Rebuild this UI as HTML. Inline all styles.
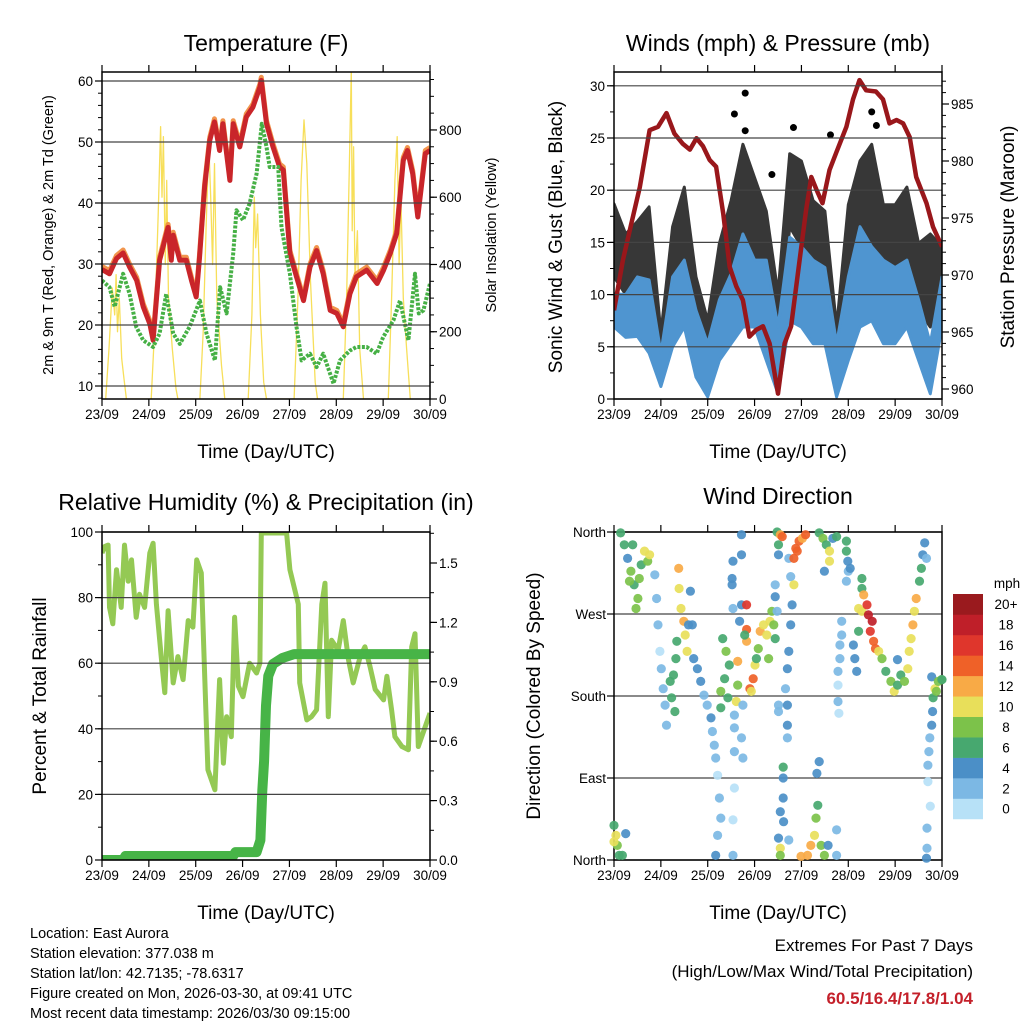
<!DOCTYPE html>
<html><head><meta charset="utf-8">
<style>
html,body{margin:0;padding:0;background:#fff;}
svg{display:block;font-family:"Liberation Sans",sans-serif;}
</style></head>
<body>
<svg id="root" width="1024" height="1024" viewBox="0 0 1024 1024" xmlns="http://www.w3.org/2000/svg">
<defs>
<clipPath id="c1"><rect x="102" y="72" width="328" height="327"/></clipPath>
<clipPath id="c2"><rect x="614" y="72" width="328" height="327"/></clipPath>
<clipPath id="c3"><rect x="102" y="532" width="328" height="328"/></clipPath>
<clipPath id="c4"><rect x="608" y="526" width="340" height="340"/></clipPath>
</defs>
<text x="266" y="51" font-size="23" text-anchor="middle">Temperature (F)</text>
<text x="778" y="51" font-size="23" text-anchor="middle">Winds (mph) &amp; Pressure (mb)</text>
<text x="266" y="510" font-size="23" text-anchor="middle">Relative Humidity (%) &amp; Precipitation (in)</text>
<text x="778" y="504" font-size="23" text-anchor="middle">Wind Direction</text>
<text x="266" y="458" font-size="19" text-anchor="middle">Time (Day/UTC)</text>
<text x="778" y="458" font-size="19" text-anchor="middle">Time (Day/UTC)</text>
<text x="266" y="919" font-size="19" text-anchor="middle">Time (Day/UTC)</text>
<text x="778" y="919" font-size="19" text-anchor="middle">Time (Day/UTC)</text>
<text transform="translate(53,235) rotate(-90)" font-size="14.5" text-anchor="middle">2m &amp; 9m T (Red, Orange) &amp; 2m Td (Green)</text>
<text transform="translate(496,235) rotate(-90)" font-size="14.5" text-anchor="middle">Solar Insolation (Yellow)</text>
<text transform="translate(562,237) rotate(-90)" font-size="19" text-anchor="middle">Sonic Wind &amp; Gust (Blue, Black)</text>
<text transform="translate(1014,237) rotate(-90)" font-size="19" text-anchor="middle">Station Pressure (Maroon)</text>
<text transform="translate(46,696) rotate(-90)" font-size="19" text-anchor="middle">Percent &amp; Total Rainfall</text>
<text transform="translate(540,696) rotate(-90)" font-size="19" text-anchor="middle">Direction (Colored By Speed)</text>
<g font-size="14.5">
<text x="30" y="938">Location: East Aurora</text>
<text x="30" y="958">Station elevation: 377.038 m</text>
<text x="30" y="978">Station lat/lon: 42.7135; -78.6317</text>
<text x="30" y="998">Figure created on Mon, 2026-03-30, at 09:41 UTC</text>
<text x="30" y="1018">Most recent data timestamp: 2026/03/30 09:15:00</text>
</g>
<g font-size="17" text-anchor="end">
<text x="973" y="951">Extremes For Past 7 Days</text>
<text x="973" y="977">(High/Low/Max Wind/Total Precipitation)</text>
<text x="973" y="1004" fill="#c4202a" font-weight="bold">60.5/16.4/17.8/1.04</text>
</g>
</svg>
<script>
// ---------- DATA ----------
const dayLabels = ["23/09","24/09","25/09","26/09","27/09","28/09","29/09","30/09"];
const tTimes = [0,0.16,0.31,0.45,0.59,0.74,0.88,1.02,1.09,1.23,1.41,1.48,1.52,1.66,1.8,1.91,2.01,2.08,2.19,2.3,2.4,2.51,2.58,2.73,2.8,2.94,3.08,3.22,3.37,3.4,3.51,3.65,3.79,3.87,4.01,4.15,4.3,4.44,4.58,4.72,4.87,5.01,5.15,5.29,5.43,5.65,5.87,6.01,6.15,6.29,6.43,6.52,6.63,6.74,6.9,7.0];
const tempRed = [29.1,28.4,30.9,31.8,29.5,27.3,23,20.2,17.5,30.6,36,30.6,34.7,30.6,30.6,27.3,24.6,31,42.6,50.3,53.3,48.6,53,43.7,53,49.2,54.1,55.7,59,60.1,53,49.2,45.9,45.4,31.7,27.9,24,29.5,32.2,28.4,22.4,21.9,19.7,25.1,27.9,29,26.8,29,31.7,35,47,48.6,44.8,37.7,48.1,48.6];
const tdTimes = [0,0.16,0.27,0.45,0.59,0.73,0.88,1.09,1.23,1.37,1.52,1.66,1.87,2.09,2.23,2.41,2.52,2.66,2.8,2.87,3.01,3.15,3.3,3.41,3.51,3.58,3.76,3.83,4.01,4.15,4.26,4.44,4.58,4.72,4.94,5.08,5.29,5.43,5.65,5.86,6.0,6.22,6.36,6.54,6.68,6.76,6.86,7.0];
const dewGreen = [27.3,26.2,23,28.4,25.1,19.7,17.5,16.4,18.6,25.1,18.6,16.9,19.7,24,18.6,14.2,26.2,21.9,31.7,38.8,37.2,39.9,44.8,53,49.2,45.9,45.9,36,28.4,19.7,14.2,15.3,13.1,15.3,10.4,14.2,15.8,16.4,16.4,15.3,18,20.8,24,17.5,28.4,21.9,22.4,26.8];
const solarTimes = [0.08,0.15,0.22,0.27,0.3,0.33,0.37,0.42,0.47,0.52,1.05,1.12,1.2,1.25,1.28,1.31,1.35,1.38,1.42,1.5,1.58,1.62,2.09,2.16,2.22,2.28,2.32,2.36,2.4,2.45,2.55,2.62,3.12,3.2,3.25,3.28,3.32,3.38,3.45,3.51,4.1,4.18,4.25,4.31,4.37,4.45,4.55,4.6,5.15,5.22,5.28,5.32,5.34,5.37,5.4,5.45,5.5,5.58,6.11,6.18,6.25,6.3,6.34,6.38,6.43,6.5,6.58];
const solarValues = [0,150,330,250,370,200,300,120,60,0,0,200,550,810,600,780,400,650,300,150,30,0,0,200,500,760,600,400,700,300,100,0,0,250,600,450,550,250,50,0,0,300,650,830,700,350,50,0,0,300,700,980,500,750,350,500,150,0,0,300,650,780,400,600,300,150,0];
const windTimes = [0,0.25,0.5,0.75,1,1.25,1.5,1.75,2,2.25,2.5,2.75,3,3.25,3.5,3.75,4,4.25,4.5,4.75,5,5.25,5.5,5.75,6,6.25,6.5,6.75,7];
const sonicHi = [10.1,10,11.7,11.4,4.4,11.7,13.3,8.5,5.3,9.5,12,15.8,13.3,13.3,6.9,15.5,14.6,13.3,12.6,5.3,11.7,16.5,14.6,13.3,12.6,13.3,9.5,5.3,11.7];
const sonicLo = [6.9,5.9,6,4.4,1.2,5,6.9,2.1,0.2,3.7,5.3,6.9,6.9,3.7,0.5,7.5,6.9,5.3,5.3,0.2,3.7,6.9,7.5,5.3,5.3,6.9,3.7,0.5,6.9];
const gustHi = [18.7,15.8,17,18.4,6.3,16.5,20.3,11.7,7.5,14.9,19,24.4,21.2,18,10.1,23.5,22.8,19,18,6.9,18.6,22.8,24.4,18.6,18.6,20.3,14.9,15.8,14.6];
const gustLo = [11.7,10,10,12,3.1,10,13.3,5.3,3.7,8.5,11.7,14.9,13.3,11.7,3.7,16.5,14.6,11.7,10.1,2.1,10,13.3,14.9,10,10,11.7,8.5,6.9,10];
const gustOutT = [2.8,2.57,2.8,3.37,3.83,4.62,5.5,5.6];
const gustOutV = [29.3,27.3,25.7,21.5,26,25.3,27.5,26.2];
const presTimes = [0,0.19,0.37,0.55,0.76,0.94,1.12,1.29,1.47,1.62,1.76,1.9,2.04,2.18,2.33,2.47,2.61,2.75,2.89,3.04,3.18,3.32,3.5,3.64,3.78,3.96,4.1,4.21,4.32,4.45,4.6,4.74,4.96,5.1,5.24,5.38,5.59,5.74,5.88,6.03,6.17,6.31,6.45,6.67,6.81,7.0];
const presValues = [966.9,971.3,974.5,977.7,982.7,983,984.2,982.4,981.5,981,982,981.3,980.1,979.5,975.4,970.7,969,967.8,964.6,965.2,965.5,964,959.6,964,965.5,971.3,975.7,978.6,977.5,976.3,979.2,980.7,983,985.4,987.1,986.2,986.1,985.4,983.3,983.6,983.3,982.1,978.6,976.3,974.2,972.5];
const rhTimes = [0,0.06,0.13,0.16,0.23,0.31,0.41,0.48,0.56,0.63,0.73,0.8,0.91,1.02,1.09,1.16,1.27,1.34,1.41,1.52,1.62,1.73,1.84,1.94,2.02,2.12,2.19,2.26,2.41,2.51,2.59,2.66,2.76,2.83,2.91,3.01,3.15,3.3,3.37,3.4,3.94,4.01,4.19,4.22,4.37,4.47,4.58,4.69,4.76,4.83,4.9,5.04,5.15,5.26,5.36,5.51,5.61,5.72,5.83,6.01,6.08,6.18,6.25,6.4,6.54,6.61,6.68,6.75,6.9,7.0];
const rhValues = [93.6,95.6,96,77,72,88.5,77,96,85,91.5,74,81,77,93.6,96.6,78,61,51,76,54,62,55,73,71,91.5,87.5,57,27.5,21.4,55,29.5,43.7,37.6,74,53,49.8,60,57,60,99.7,99.7,88.5,78,54,42.7,43.7,45.8,78,84.4,43.7,67,64,73,61,54,62,65,59,52,48.8,56,45.8,37.6,34.6,33.6,65,69,34.6,40.7,44.8];
const rainTimes = [0,0.45,0.5,2.8,2.85,3.3,3.38,3.42,3.46,3.5,3.55,3.65,3.85,4.1,7.0];
const rainValues = [0,0,0.02,0.02,0.04,0.04,0.1,0.35,0.5,0.78,0.93,0.99,1.02,1.04,1.04];
const dirTimes = [0.14,0.22,0.29,0.36,0.43,0.51,0.47,0.58,0.65,0.72,0.76,0.33,0.54,0.40,
0.87,0.91,0.94,0.98,1.01,1.05,1.09,1.12,1.20,1.23,1.27,1.30,
1.38,1.39,1.43,1.49,1.52,1.56,1.34,1.32,1.59,1.67,1.63,
1.70,1.78,1.85,1.92,1.99,2.07,2.10,2.14,2.17,2.21,2.25,2.28,2.21,2.17,
2.32,2.39,2.46,2.36,2.28,2.43,2.28,2.64,2.64,2.61,
2.72,2.72,2.54,2.52,2.52,2.72,2.54,2.68,2.83,2.83,2.83,2.79,2.75,2.57,2.57,2.72,2.57,2.75,2.57,2.54,2.54,
2.90,2.97,3.01,3.08,3.12,3.19,3.26,3.33,3.37,3.41,3.44,3.30,3.04,2.93,
3.48,3.51,3.51,3.55,3.44,3.44,3.48,3.73,3.77,3.84,3.80,3.77,3.73,3.70,3.66,3.51,3.70,3.70,3.70,3.51,3.61,3.61,3.61,3.55,3.62,3.51,3.55,3.55,3.73,
3.84,3.88,3.95,4.02,4.09,3.91,3.59,
3.99,4.13,4.20,4.28,4.31,4.35,4.42,4.49,4.57,4.75,4.75,4.38,4.33,
4.38,4.46,4.53,4.60,4.60,4.67,4.75,4.49,
4.96,4.96,4.99,5.00,4.96,5.04,4.86,4.86,4.82,4.82,4.78,4.78,4.78,4.80,5.11,5.14,5.18,5.29,5.29,
5.22,5.29,5.33,5.40,5.43,5.51,5.47,5.54,5.58,5.65,5.22,5.72,
5.80,5.91,5.98,6.05,6.12,6.20,6.27,6.30,6.34,6.38,6.41,6.45,6.52,6.56,6.59,6.63,6.67,6.05,
6.78,6.81,6.80,6.78,6.74,6.72,6.70,6.70,6.75,6.68,6.68,6.67,
6.85,6.92,6.99,7.0,6.88,
0.0,0.04,0.07,0.11,0.18,0.25,0.0];
const dirValues = [359,346,331,317,302,287,276,324,339,328,335,306,309,346,
313,287,258,229,210,188,170,148,196,178,203,163,
320,298,276,262,247,229,240,221,258,258,295,
221,210,196,181,170,156,141,126,112,93,68,46,27,5,
243,229,214,199,185,178,167,218,192,174,
357,335,328,309,302,280,276,262,280,253,240,247,170,159,145,134,119,112,79,44,5,
188,199,214,232,251,258,247,262,273,258,243,221,221,185,
360,346,335,357,302,289,273,331,311,302,280,258,229,210,188,170,170,148,134,163,102,90,68,53,42,24,13,5,22,
331,342,350,353,357,339,355,
4,5,16,27,46,60,16,5,16,33,5,108,95,
359,353,346,339,328,353,355,317,
350,339,328,317,306,320,262,247,236,221,207,192,174,161,236,221,207,309,298,
276,273,291,280,269,262,251,240,232,229,251,221,
207,196,185,192,203,196,210,229,243,258,273,287,306,320,335,348,331,220,
201,178,163,148,134,119,104,86,59,35,13,2,
188,196,198,198,185,
38,27,16,5,5,29,20];
const dirSpeeds = [7,6,5,8,7,8,8,6,10,9,10,8,9,6,
3,2,2,1,2,3,2,2,7,7,6,7,
12,10,10,12,10,11,7,6,5,4,5,
5,4,4,3,3,4,3,2,2,1,2,2,2,4,
7,8,6,7,8,6,6,12,9,10,
4,4,4,4,5,4,2,4,16,14,12,6,3,3,2,2,2,2,1,1,2,
14,14,11,9,12,10,10,10,8,8,6,8,7,10,
6,7,5,13,3,4,2,3,3,10,4,4,4,4,2,2,4,4,2,2,6,4,5,4,4,4,10,8,2,
14,14,14,13,14,15,14,
12,12,12,10,9,6,8,8,5,3,3,4,4,
7,8,6,10,10,5,6,4,
6,7,5,3,2,4,2,2,2,2,2,1,2,1,4,4,4,7,7,
10,10,12,16,18,18,16,14,14,10,6,8,
7,8,11,7,6,9,10,11,10,12,10,12,7,6,5,4,3,4,
4,6,4,4,3,2,2,1,1,3,3,4,
10,8,8,7,9,
6,10,8,6,7,4,10];
const cbLabels = ["0","2","4","6","8","10","12","14","16","18","20+"];
const cbColors = ["#b7e1f7","#7cb8e4","#4b8fc7","#47a86f","#7cc24a","#e8df5a","#f8aa46","#ef6128","#df362c","#bf1f29","#9a1a1e"];
const tempTicks = [10,20,30,40,50,60];
const solarTicks = [0,200,400,600,800];
const windTicks = [0,5,10,15,20,25,30];
const presTicks = [960,965,970,975,980,985];
const rhTicks = [0,20,40,60,80,100];
const rainTicks = [0,0.3,0.6,0.9,1.2,1.5];
const dirTicks = [0,90,180,270,360];
const dirTickLabels = ["North","East","South","West","North"];

// ---------- SCALES ----------
const DAY = 46.857;
const x1 = t => 102 + t*DAY;
const x2 = t => 614 + t*DAY;
const yT = v => 386 - (v-10)*6.1;
const yS = w => 399 - w*0.3363;
const yW = v => 399 - v*10.44;
const yP = p => 389 - (p-960)*11.4;
const yR = v => 860 - v*3.28;
const yPr = v => 860 - v*198;
const yD = d => 860 - d*0.9111;

const NS = "http://www.w3.org/2000/svg";
const root = document.getElementById("root");
function mk(tag, attrs, parent){
  const e = document.createElementNS(NS, tag);
  for (const k in attrs) e.setAttribute(k, attrs[k]);
  (parent||root).appendChild(e);
  return e;
}
function grp(name, clip){
  const g = mk("g", clip ? {"clip-path":"url(#"+clip+")"} : {});
  
  
  return g;
}
function pts(ts, vs, fx, fy){ return ts.map((t,i)=>fx(t).toFixed(1)+","+fy(vs[i]).toFixed(1)).join(" "); }

function frame(name, L, T, R, B, xs, leftTicks, fyL, leftLab, rightTicks, fyR, rightLab, minorL, minorR){
  const g = grp(name, null);
  leftTicks.forEach(v=>{
    const y = fyL(v);
    const ln = mk("line",{x1:L,x2:R,y1:y,y2:y,stroke:"#444","stroke-width":1.2},g);
    
    
  });
  const bx = mk("rect",{x:L,y:T,width:R-L,height:B-T,fill:"none",stroke:"#000","stroke-width":1.5},g);
  
  
  dayLabels.forEach((lab,i)=>{
    const x = xs(i);
    mk("line",{x1:x,x2:x,y1:B,y2:B+7,stroke:"#000","stroke-width":1.2},g);
    mk("line",{x1:x,x2:x,y1:T,y2:T-7,stroke:"#000","stroke-width":1.2},g);
    const tx = mk("text",{x:x,y:B+20,"font-size":13.5,"text-anchor":"middle"},g);
    tx.textContent = lab;
    
    
  });
  leftTicks.forEach((v,i)=>{
    const y = fyL(v);
    mk("line",{x1:L-7,x2:L,y1:y,y2:y,stroke:"#000","stroke-width":1.2},g);
    if (leftLab){
      const tx = mk("text",{x:L-9,y:y+5,"font-size":13.5,"text-anchor":"end"},g);
      tx.textContent = leftLab[i];
      
      
    }
  });
  minorL.forEach(v=>{ const y=fyL(v); if(y>T&&y<B) mk("line",{x1:L-4,x2:L,y1:y,y2:y,stroke:"#000","stroke-width":1},g); });
  if (rightTicks){
    rightTicks.forEach((v,i)=>{
      const y = fyR(v);
      mk("line",{x1:R,x2:R+7,y1:y,y2:y,stroke:"#000","stroke-width":1.2},g);
      const tx = mk("text",{x:R+9,y:y+5,"font-size":13.5,"text-anchor":"start"},g);
      tx.textContent = rightLab[i];
      
      
    });
    minorR.forEach(v=>{ const y=fyR(v); if(y>T&&y<B) mk("line",{x1:R,x2:R+4,y1:y,y2:y,stroke:"#000","stroke-width":1},g); });
  }
}
function range(a,b,s){ const r=[]; for(let v=a; v<=b+1e-9; v+=s) r.push(+v.toFixed(3)); return r; }

// ---------- PANEL 1: Temperature ----------
const p1 = grp("temperature-plot","c1");
const sol = mk("polyline",{points:pts(solarTimes,solarValues,x1,yS),fill:"none",stroke:"#f7df5a","stroke-width":1.3,"stroke-linejoin":"round"},p1);


const tOr = mk("polyline",{points:pts(tTimes,tempRed.map(v=>v+0.5),x1,yT),fill:"none",stroke:"#f08a3a","stroke-width":5,"stroke-linejoin":"round",opacity:0.9},p1);


const tRd = mk("polyline",{points:pts(tTimes,tempRed,x1,yT),fill:"none",stroke:"#c9252a","stroke-width":5,"stroke-linejoin":"round"},p1);


const td = mk("polyline",{points:pts(tdTimes,dewGreen,x1,yT),fill:"none",stroke:"#46b045","stroke-width":4,"stroke-dasharray":"3 1.5","stroke-linejoin":"round"},p1);


frame("temperature-axes",102,72,430,399,x1,tempTicks,yT,tempTicks.map(String),solarTicks,yS,solarTicks.map(String),range(8,61,2),range(0,960,50));

// ---------- PANEL 2: Winds ----------
const p2 = grp("winds-plot","c2");
const gustPoly = windTimes.map((t,i)=>x2(t).toFixed(1)+","+yW(gustHi[i]).toFixed(1)).concat(windTimes.slice().reverse().map((t,j)=>{const i=windTimes.length-1-j;return x2(t).toFixed(1)+","+yW(gustLo[i]).toFixed(1);})).join(" ");
const gp = mk("polygon",{points:gustPoly,fill:"#000",stroke:"#000","stroke-width":3,"stroke-linejoin":"round",opacity:0.78},p2);


gustOutT.forEach((t,i)=>{
  const c = mk("circle",{cx:x2(t),cy:yW(gustOutV[i]),r:3.5,fill:"#000"},p2);
  
  
});
const sonicPoly = windTimes.map((t,i)=>x2(t).toFixed(1)+","+yW(sonicHi[i]).toFixed(1)).concat(windTimes.slice().reverse().map((t,j)=>{const i=windTimes.length-1-j;return x2(t).toFixed(1)+","+yW(sonicLo[i]).toFixed(1);})).join(" ");
const sp = mk("polygon",{points:sonicPoly,fill:"#4f95d0",stroke:"#4f95d0","stroke-width":3,"stroke-linejoin":"round"},p2);


const pr = mk("polyline",{points:pts(presTimes,presValues,x2,yP),fill:"none",stroke:"#99171b","stroke-width":4.5,"stroke-linejoin":"round"},p2);


frame("winds-axes",614,72,942,399,x2,windTicks,yW,windTicks.map(String),presTicks,yP,presTicks.map(String),range(0,31,2.5),range(959,987,1));

// ---------- PANEL 3: RH & Precip ----------
const p3 = grp("humidity-plot","c3");
const rh = mk("polyline",{points:pts(rhTimes,rhValues,x1,yR),fill:"none",stroke:"#94c954","stroke-width":5,"stroke-linejoin":"round"},p3);


const rn = mk("polyline",{points:pts(rainTimes,rainValues,x1,yPr),fill:"none",stroke:"#47b447","stroke-width":10,"stroke-linejoin":"round","stroke-linecap":"round"},p3);


frame("humidity-axes",102,532,430,860,x1,rhTicks,yR,rhTicks.map(String),rainTicks,yPr,rainTicks.map(v=>v.toFixed(1)),range(0,100,10),range(0,1.65,0.15));

// ---------- PANEL 4: Wind direction ----------
frame("direction-axes",614,532,942,860,x2,dirTicks,yD,null,null,null,null,[],[]);
dirTicks.forEach((d,i)=>{
  const tx = mk("text",{x:606,y:yD(d)+5,"font-size":13.5,"text-anchor":"end"});
  tx.textContent = dirTickLabels[i];
  
  
});
const p4 = grp("direction-plot","c4");
dirTimes.forEach((t,i)=>{
  const ci = Math.min(10, Math.floor(dirSpeeds[i]/2));
  const c = mk("circle",{cx:x2(t).toFixed(1),cy:yD(dirValues[i]).toFixed(1),r:4.6,fill:cbColors[ci],opacity:0.92},p4);
  
  
});
// colorbar
const cb = grp("speed-colorbar",null);
const cbTop = 594, cbH = 20.45;
cbLabels.forEach((lab,i)=>{
  const y = cbTop + (10-i)*cbH;
  const r = mk("rect",{x:953,y:y,width:30,height:cbH+0.3,fill:cbColors[i]},cb);
  
  
  const tx = mk("text",{x:1006,y:y+cbH/2+5,"font-size":13.5,"text-anchor":"middle"},cb);
  tx.textContent = lab;
  
  
});
const mph = mk("text",{x:1007,y:588,"font-size":13.5,"text-anchor":"middle"},cb);
mph.textContent = "mph";


</script>
</body></html>
